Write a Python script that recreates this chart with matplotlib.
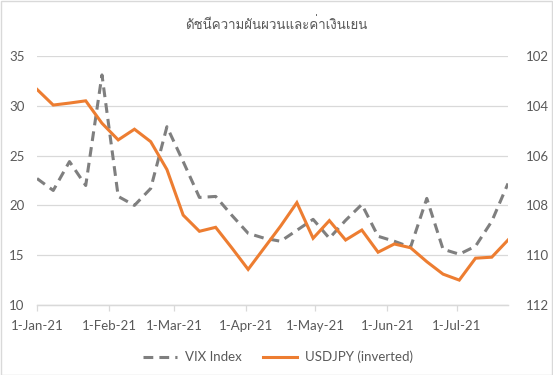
import matplotlib
matplotlib.use("Agg")
import matplotlib.pyplot as plt
import matplotlib.dates as mdates
from matplotlib import font_manager, ft2font
from matplotlib.patches import Rectangle
from matplotlib.lines import Line2D
import pandas as pd

# ---------------- data ----------------
dates = ["2021-01-01", "2021-01-08", "2021-01-15", "2021-01-22", "2021-01-29",
         "2021-02-05", "2021-02-12", "2021-02-19", "2021-02-26", "2021-03-05",
         "2021-03-12", "2021-03-19", "2021-03-26", "2021-04-02", "2021-04-09",
         "2021-04-16", "2021-04-23", "2021-04-30", "2021-05-07", "2021-05-14",
         "2021-05-21", "2021-05-28", "2021-06-04", "2021-06-11", "2021-06-18",
         "2021-06-25", "2021-07-02", "2021-07-09", "2021-07-16", "2021-07-23"]

vix = [22.7, 21.5, 24.4, 22.0, 33.1, 20.9, 20.0, 21.7, 27.9, 24.4,
       20.8, 20.9, 19.0, 17.2, 16.7, 16.4, 17.5, 18.6, 16.7, 18.5,
       20.1, 16.9, 16.4, 15.8, 20.7, 15.6, 15.1, 15.9, 18.4, 22.2]

usdjpy = [103.34, 103.97, 103.89, 103.80, 104.70, 105.37, 104.94, 105.44, 106.56, 108.39,
          109.04, 108.88, 109.71, 110.57, 109.70, 108.83, 107.89, 109.32, 108.61, 109.39,
          108.99, 109.88, 109.55, 109.70, 110.26, 110.76, 111.00, 110.12, 110.08, 109.39]

title = "ดัชนีความผันผวนและค่าเงินเยน"
series_names = ["VIX Index", "USDJPY (inverted)"]
month_ticks = ["2021-01-01", "2021-02-01", "2021-03-01", "2021-04-01",
               "2021-05-01", "2021-06-01", "2021-07-01"]
left_ticks = [10, 15, 20, 25, 30, 35]
right_ticks = [102, 104, 106, 108, 110, 112]

# ---------------- fonts ----------------
thai_font = None
for f in font_manager.fontManager.ttflist:
    try:
        ft = ft2font.FT2Font(f.fname)
        cm = ft.get_charmap()
        if 0x0E14 in cm and 0x0E31 in cm:
            thai_font = f.name
            break
    except Exception:
        pass
title_family = ([thai_font] if thai_font else []) + ["DejaVu Sans"]

plt.rcParams["font.family"] = ["Lato", "DejaVu Sans"]

TXT = "#595959"
GRID = "#D9D9D9"
GRAY = "#7F7F7F"
ORANGE = "#ED7D31"

W, H = 553, 375
fig = plt.figure(figsize=(W / 100, H / 100), dpi=100)

x0, x1, ytop, ybot = 37, 508, 56, 305
ax = fig.add_axes([x0 / W, (H - ybot) / H, (x1 - x0) / W, (ybot - ytop) / H])
ax2 = ax.twinx()

xd = pd.to_datetime(dates)
l1, = ax.plot(xd, vix, color=GRAY, lw=2.2, dashes=(3.2, 2.0), zorder=3)
l2, = ax2.plot(xd, usdjpy, color=ORANGE, lw=2.2, zorder=3, solid_joinstyle="miter")

ax.set_xlim(pd.Timestamp("2021-01-01"), pd.Timestamp("2021-07-23"))
ax.set_ylim(10, 35)
ax.set_yticks(left_ticks)
ax2.set_ylim(112, 102)
ax2.set_yticks(right_ticks)

ax.set_xticks(pd.to_datetime(month_ticks))
ax.xaxis.set_major_formatter(
    matplotlib.ticker.FuncFormatter(
        lambda v, p: (lambda d: f"{d.day}-{d.strftime('%b-%y')}")(mdates.num2date(v))))

ax.grid(axis="y", color=GRID, lw=0.9)
ax.set_axisbelow(True)
for a in (ax, ax2):
    for s in ("top", "left", "right"):
        a.spines[s].set_visible(False)
    a.spines["bottom"].set_color(GRID)
    a.spines["bottom"].set_linewidth(0.9)

ax.tick_params(axis="x", direction="out", length=4.5, width=0.9, color=GRID,
               labelcolor=TXT, labelsize=9.5, pad=6)
ax.tick_params(axis="y", length=0, labelcolor=TXT, labelsize=9.5, pad=9)
ax2.tick_params(axis="y", length=0, labelcolor=TXT, labelsize=9.5, pad=13)
ax2.tick_params(axis="x", length=0)

fig.text(276 / W, 1 - 25 / H, title, ha="center", va="center",
         fontsize=9.6, color=TXT, family=title_family)

handles = [Line2D([], [], color=GRAY, lw=2.2, dashes=(3.2, 2.0)),
           Line2D([], [], color=ORANGE, lw=2.2)]
leg = fig.legend(handles, series_names, loc="center", bbox_to_anchor=(278 / W, 1 - 357 / H),
                 ncol=2, frameon=False, fontsize=9.5, handlelength=2.6,
                 handletextpad=0.6, columnspacing=1.6)
for t in leg.get_texts():
    t.set_color(TXT)

fig.add_artist(Rectangle((0.5 / W, 0.5 / H), 1 - 1.5 / W, 1 - 1.5 / H,
                         transform=fig.transFigure, fill=False, edgecolor=GRID, lw=1))

fig.savefig("out.png", dpi=100)
